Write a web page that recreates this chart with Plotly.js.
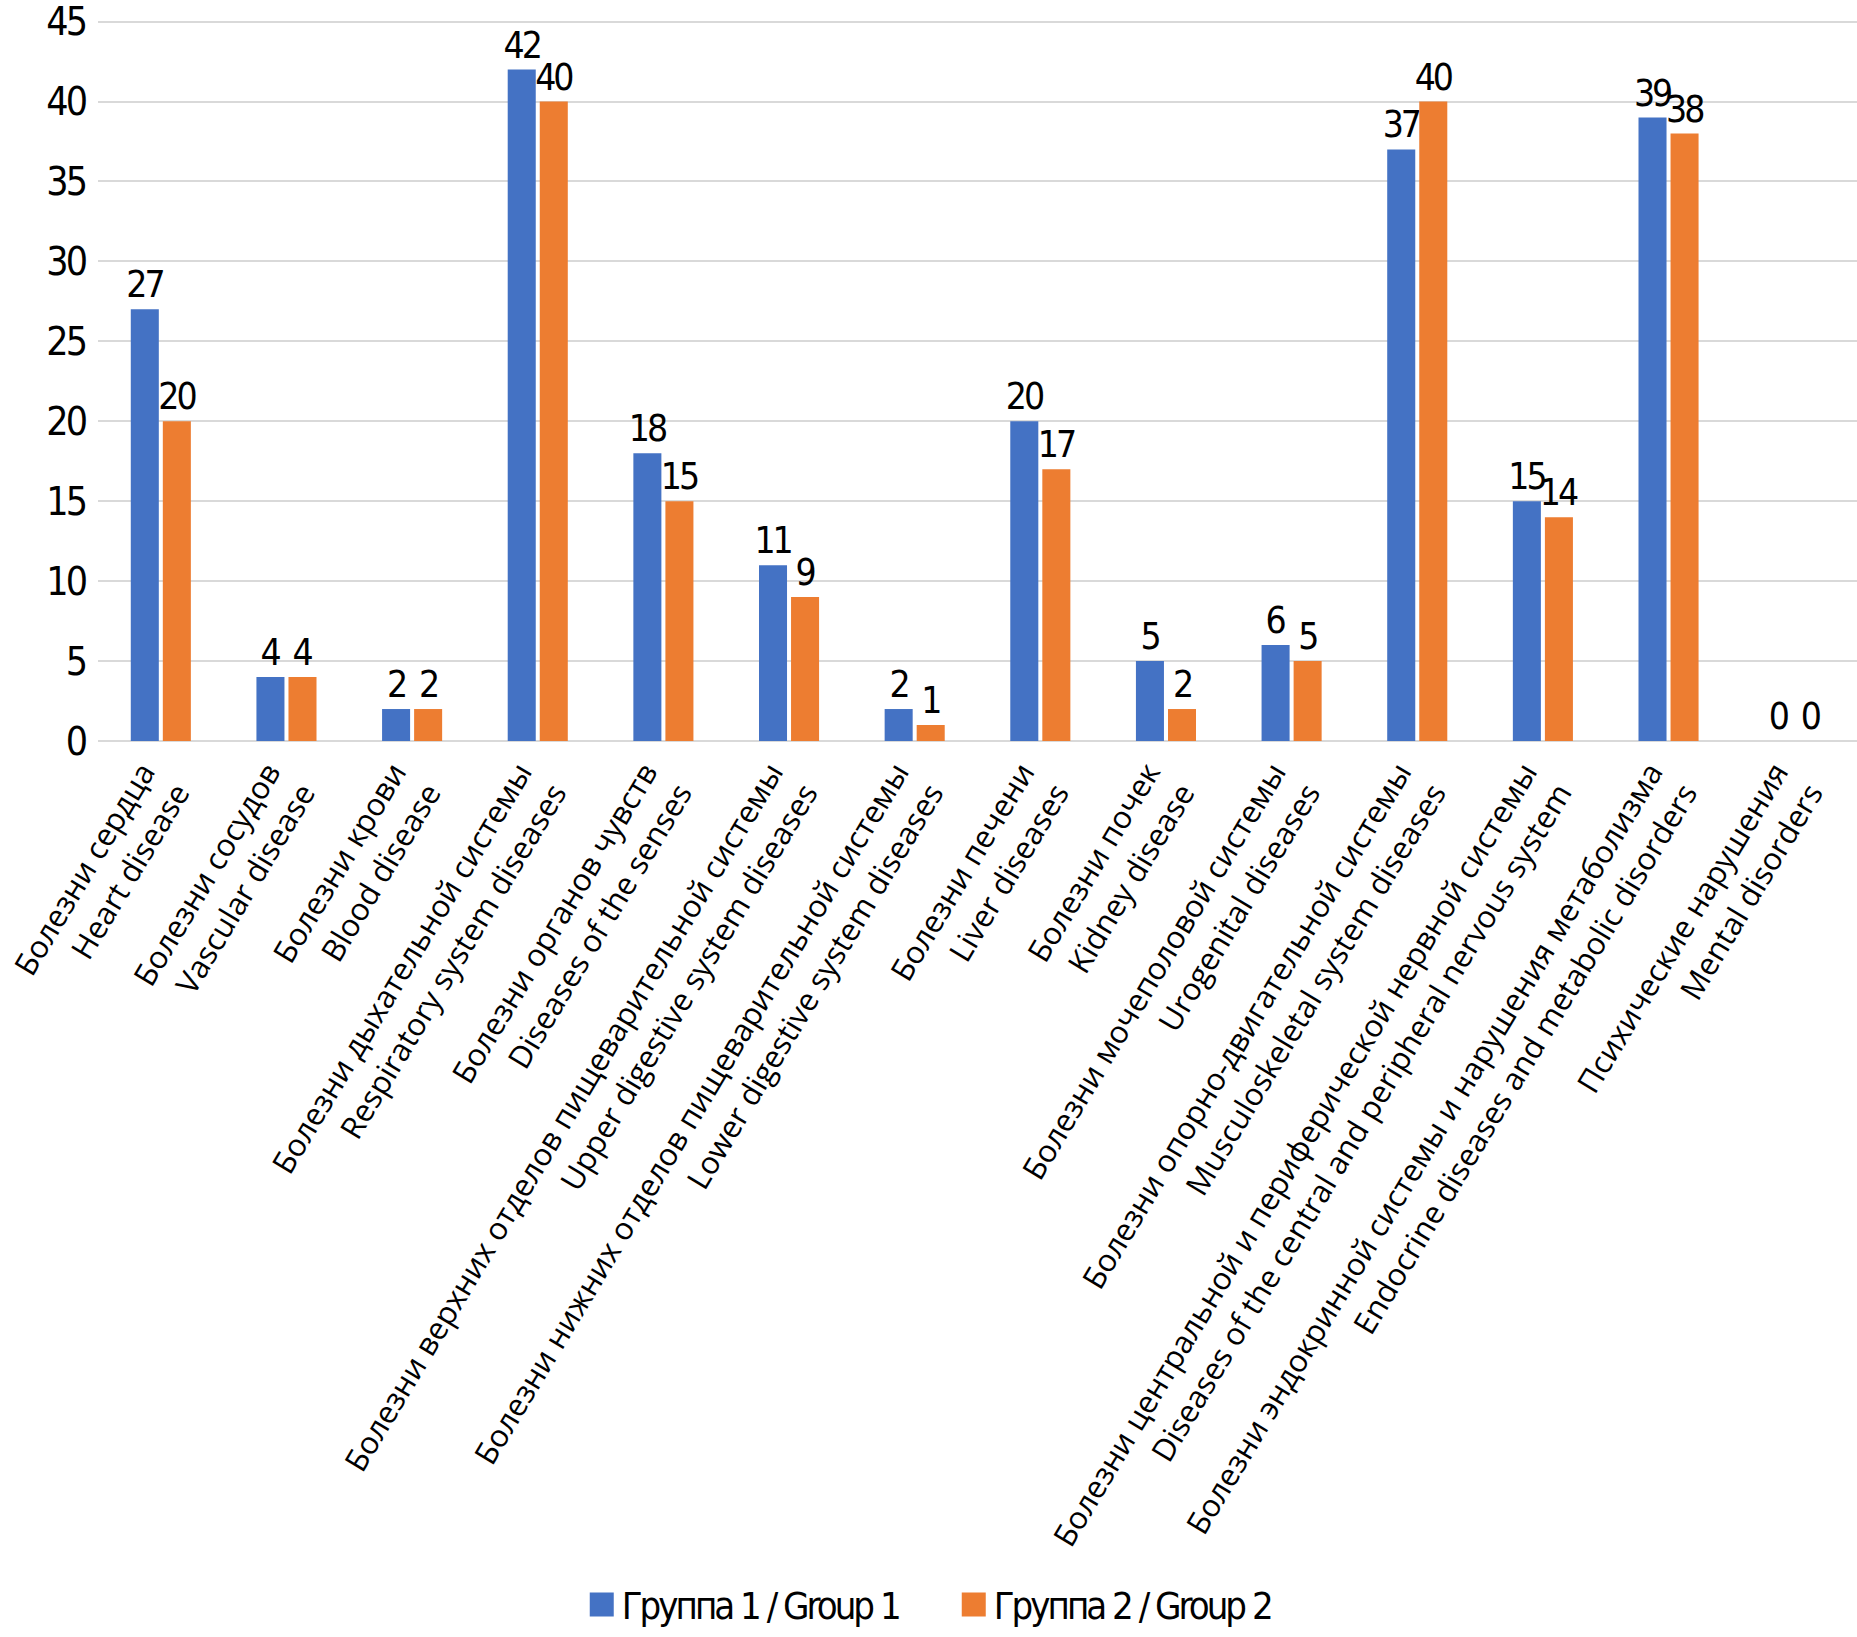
<!DOCTYPE html>
<html>
<head>
<meta charset="utf-8">
<script src="https://cdn.plot.ly/plotly-3.0.1.min.js"></script>
<style>
  html, body { margin: 0; padding: 0; background: #fff; overflow: hidden; }
  #chart { width: 1857px; height: 1637px; }
  .legend .legendpoints path { transform: translate(20px, 0px) scale(2); }
</style>
</head>
<body>
<div id="chart"></div>
<script>
const categories = [
  "Болезни сердца<br>Heart disease",
  "Болезни сосудов<br>Vascular disease",
  "Болезни крови<br>Blood disease",
  "Болезни дыхательной системы<br>Respiratory system diseases",
  "Болезни органов чувств<br>Diseases of the senses",
  "Болезни верхних отделов пищеварительной системы<br>Upper digestive system diseases",
  "Болезни нижних отделов пищеварительной системы<br>Lower digestive system diseases",
  "Болезни печени<br>Liver diseases",
  "Болезни почек<br>Kidney disease",
  "Болезни мочеполовой системы<br>Urogenital diseases",
  "Болезни опорно-двигательной системы<br>Musculoskeletal system diseases",
  "Болезни центральной и периферической нервной системы<br>Diseases of the central and peripheral nervous system",
  "Болезни эндокринной системы и нарушения метаболизма<br>Endocrine diseases and metabolic disorders",
  "Психические нарушения<br>Mental disorders"
];
const group1 = [27, 4, 2, 42, 18, 11, 2, 20, 5, 6, 37, 15, 39, 0];
const group2 = [20, 4, 2, 40, 15, 9, 1, 17, 2, 5, 40, 14, 38, 0];
const seriesNames = ["Группа 1 / Group 1", "Группа 2 / Group 2"];
const yTicks = [0, 5, 10, 15, 20, 25, 30, 35, 40, 45];

const numFont = "'DejaVu Sans Condensed', sans-serif";
const catFont = "'Open Sans', 'Noto Sans', sans-serif";
const tight = (s, px) => '<span style="letter-spacing:' + px + 'px">' + s + '</span>';

function barTrace(vals, name, color) {
  return {
    type: 'bar',
    x: categories,
    y: vals,
    name: tight(name, -3),
    marker: { color: color, line: { width: 0 } },
    texttemplate: tight('%{y}', -3),
    textposition: 'outside',
    textfont: { family: numFont, size: 37, color: '#000' },
    constraintext: 'none',
    cliponaxis: false,
    hoverinfo: 'skip'
  };
}

const data = [
  barTrace(group1, seriesNames[0], '#4472C4'),
  barTrace(group2, seriesNames[1], '#ED7D31')
];

const layout = {
  width: 1857,
  height: 1637,
  margin: { l: 98, r: 0, t: 20, b: 891, pad: 0 },
  paper_bgcolor: '#fff',
  plot_bgcolor: '#fff',
  barmode: 'group',
  bargap: 0.49,
  bargroupgap: 0.125,
  showlegend: true,
  legend: {
    orientation: 'h',
    x: 0.4865,
    xanchor: 'center',
    y: -1.198,
    yanchor: 'middle',
    font: { family: numFont, size: 38, color: '#000' },
    itemwidth: 30,
    entrywidth: 327,
    entrywidthmode: 'pixels',
    traceorder: 'normal'
  },
  xaxis: {
    type: 'category',
    tickangle: -59,
    tickfont: { family: catFont, size: 31, color: '#000' },
    showgrid: false,
    showline: false,
    ticks: '',
    zeroline: false,
    ticklabelshift: -18,
    ticklabelstandoff: 6
  },
  yaxis: {
    range: [0, 45.1],
    tickvals: yTicks,
    ticktext: yTicks.map(v => tight(String(v), -3)),
    tickfont: { family: numFont, size: 39, color: '#000' },
    ticklabeloverflow: 'allow',
    showgrid: true,
    gridcolor: '#d9d9d9',
    gridwidth: 2,
    zeroline: true,
    zerolinecolor: '#d9d9d9',
    zerolinewidth: 2,
    showline: false,
    ticks: '',
    ticklabelstandoff: 12
  }
};

Plotly.newPlot('chart', data, layout, { staticPlot: true, displayModeBar: false });
</script>
</body>
</html>
